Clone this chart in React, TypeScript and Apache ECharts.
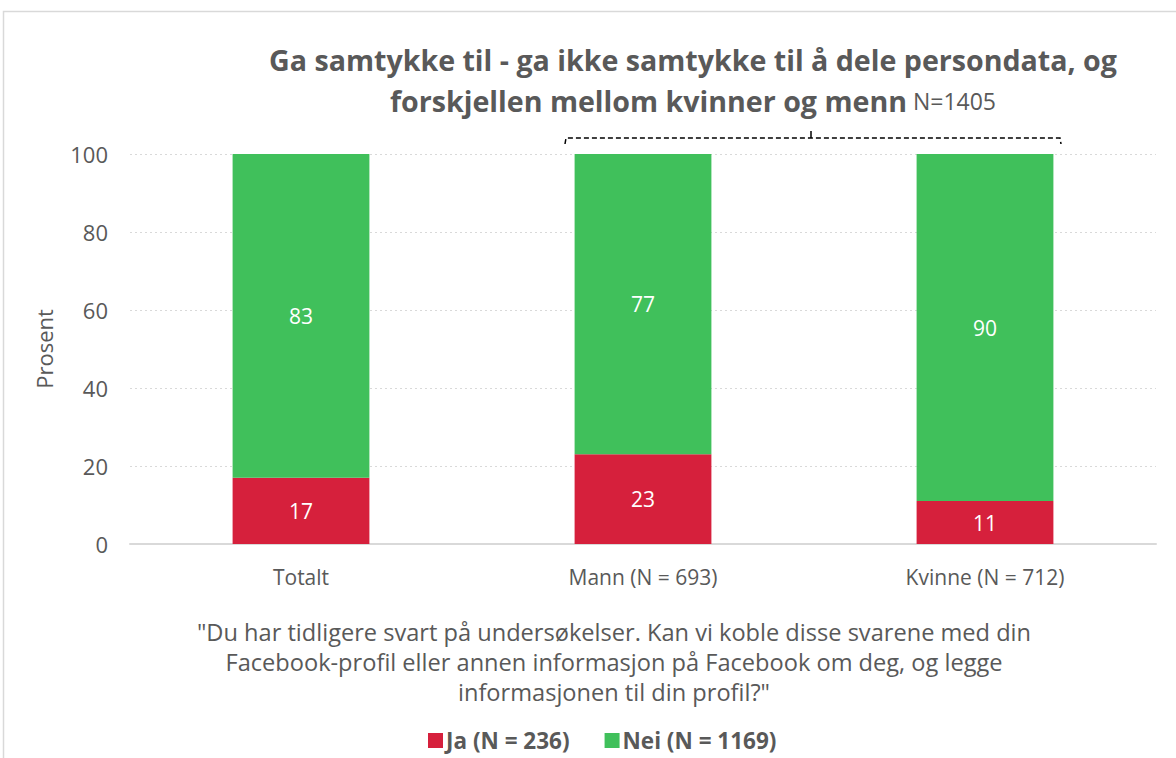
import React, { useEffect, useRef } from "react";
import * as echarts from "echarts";

const categories = ["Totalt", "Mann (N = 693)", "Kvinne (N = 712)"];
const jaValues = [17, 23, 11];
const neiValues = [83, 77, 90];
const seriesNames = ["Ja (N = 236)", "Nei (N = 1169)"];
const yTicks = [0, 20, 40, 60, 80, 100];
const titleLine1 = "Ga samtykke til - ga ikke samtykke til å dele persondata, og";
const titleLine2 = "forskjellen mellom kvinner og menn";
const titleN = "N=1405";
const questionLines = [
  "\"Du har tidligere svart på undersøkelser. Kan vi koble disse svarene med din",
  "Facebook-profil eller annen informasjon på Facebook om deg, og legge",
  "informasjonen til din profil?\"",
];

const FONT = "'Open Sans', 'Liberation Sans', sans-serif";
const GREY = "#595959";

export default function App() {
  const ref = useRef<HTMLDivElement>(null);
  useEffect(() => {
    document.body.style.margin = "0";
    const chart = echarts.init(ref.current!, null, { renderer: "svg" });
    chart.setOption({
      animation: false,
      textStyle: { fontFamily: FONT },
      grid: { left: 130, right: 20, top: 154, bottom: 214, containLabel: false },
      title: {
        text: "{b|" + titleLine1 + "}\n{b|" + titleLine2 + "}{n| " + titleN + "}",
        left: 693,
        textAlign: "center",
        top: 39,
        padding: 0,
        textStyle: {
          fontWeight: "normal",
          rich: {
            b: { fontFamily: FONT, fontWeight: "bold", fontSize: 28.6, color: GREY, lineHeight: 41 },
            n: { fontFamily: FONT, fontWeight: "normal", fontSize: 23, color: GREY, lineHeight: 41 },
          },
        },
      },
      legend: {
        left: 428,
        top: 729,
        padding: 0,
        itemWidth: 15,
        itemHeight: 15,
        itemGap: 35,
        icon: "rect",
        textStyle: { fontFamily: FONT, fontSize: 22.5, fontWeight: "bold", color: GREY, lineHeight: 16, padding: [0, 0, 0, -2] },
        data: seriesNames,
      },
      xAxis: {
        type: "category",
        data: categories,
        axisLine: { lineStyle: { color: "#d9d9d9", width: 2 } },
        axisTick: { show: false },
        axisLabel: { fontFamily: FONT, fontSize: 21, color: GREY, margin: 22 },
      },
      yAxis: {
        type: "value",
        min: 0,
        max: 100,
        interval: 20,
        name: "Prosent",
        nameLocation: "middle",
        nameGap: 75,
        nameTextStyle: { fontFamily: FONT, fontSize: 22, color: GREY },
        axisLine: { show: false },
        axisTick: { show: false },
        axisLabel: {
          fontFamily: FONT,
          fontSize: 22,
          color: GREY,
          margin: 22,
          formatter: (v: number) => (yTicks.includes(v) ? String(v) : ""),
        },
        splitLine: { lineStyle: { color: "#d9d9d9", type: [2, 3], width: 1 } },
      },
      series: [
        {
          name: seriesNames[0],
          type: "bar",
          stack: "s",
          barWidth: "40%",
          data: jaValues,
          itemStyle: { color: "#D6203C" },
          label: { show: true, position: "inside", color: "#ffffff", fontFamily: FONT, fontSize: 21 },
        },
        {
          name: seriesNames[1],
          type: "bar",
          stack: "s",
          barWidth: "40%",
          data: neiValues,
          itemStyle: { color: "#40C05B" },
          label: { show: true, position: "inside", color: "#ffffff", fontFamily: FONT, fontSize: 21 },
        },
      ],
      graphic: [
        {
          type: "rect",
          shape: { x: 3.5, y: 11.5, width: 1300, height: 900 },
          style: { fill: "none", stroke: "#d9d9d9", lineWidth: 1.5 },
          silent: true,
        },
        {
          type: "polyline",
          shape: { points: [[565, 144], [566, 138], [1060, 138], [1061, 144]] },
          style: { fill: "none", stroke: "#000", lineWidth: 1.5, lineDash: [5, 3] },
        },
        {
          type: "line",
          shape: { x1: 811, y1: 131, x2: 811, y2: 138 },
          style: { stroke: "#000", lineWidth: 1.5 },
        },
        {
          type: "text",
          x: 614,
          y: 617,
          style: {
            text: questionLines.join("\n"),
            fontFamily: FONT,
            fontSize: 23.6,
            lineHeight: 30,
            fill: GREY,
            align: "center",
            verticalAlign: "top",
          },
        },
      ],
    });
    return () => chart.dispose();
  }, []);
  return <div ref={ref} style={{ width: 1176, height: 758 }} />;
}
